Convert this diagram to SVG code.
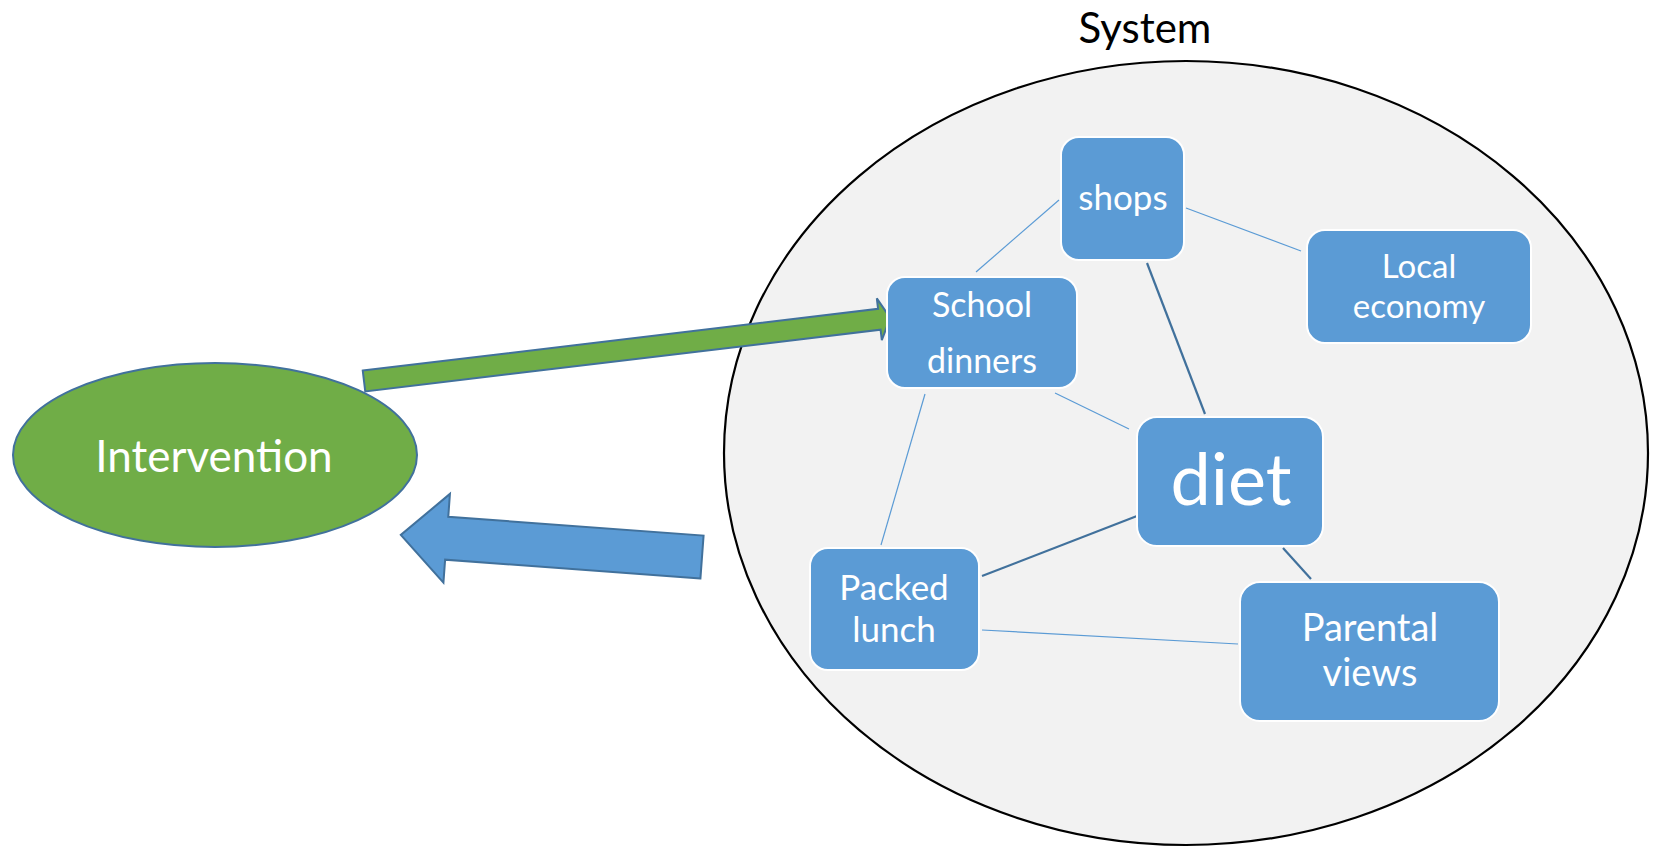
<svg xmlns="http://www.w3.org/2000/svg" width="1655" height="848" viewBox="0 0 1655 848">
<style>
.t{font-family:Lato,"Liberation Sans",sans-serif;fill:#fff;text-anchor:middle}
.node{fill:#5B9BD5;stroke:#fff;stroke-width:2}
.thin{stroke:#5B9BD5;stroke-width:1.2;fill:none}
.thick{stroke:#41719C;stroke-width:2.2;fill:none}
</style>
<rect width="1655" height="848" fill="#fff"/>
<g id="system">
<ellipse cx="1186" cy="453" rx="462" ry="392" fill="#F2F2F2" stroke="#000" stroke-width="2.2"/>
<text x="1145" y="43" font-family="Lato,'Liberation Sans',sans-serif" font-size="42" fill="#000" text-anchor="middle">System</text>
</g>
<g id="connectors">
<line class="thin" x1="1059" y1="200" x2="976" y2="272"/>
<line class="thin" x1="1186" y1="208" x2="1301" y2="251"/>
<line class="thick" x1="1147" y1="263" x2="1205" y2="414"/>
<line class="thin" x1="1055" y1="393" x2="1129" y2="429"/>
<line class="thin" x1="925" y1="394" x2="881" y2="545"/>
<line class="thick" x1="1137" y1="516" x2="982" y2="576"/>
<line class="thick" x1="1283" y1="548" x2="1311" y2="579"/>
<line class="thin" x1="982" y1="630" x2="1238" y2="644"/>
<polygon transform="translate(364,381) rotate(-6.83)" points="0,-10.5 519,-10.5 519,-21 530,0 519,21 519,10.5 0,10.5" fill="#70AD47" stroke="#41719C" stroke-width="2"/>
<polygon transform="translate(702,557) rotate(184.2)" points="0,-21.5 256,-21.5 256,-44.5 302,0 256,44.5 256,21.5 0,21.5" fill="#5B9BD5" stroke="#41719C" stroke-width="2"/>
</g>
<g id="intervention">
<ellipse cx="215" cy="455" rx="202" ry="92" fill="#70AD47" stroke="#41719C" stroke-width="2"/>
<text class="t" x="214" y="472" font-size="44">Intervention</text>
</g>
<g id="shops">
<rect class="node" x="1061" y="137" width="123" height="123" rx="18"/>
<text class="t" x="1123" y="210" font-size="35">shops</text>
</g>
<g id="local-economy">
<rect class="node" x="1307" y="230" width="224" height="113" rx="18"/>
<text class="t" x="1419" y="278" font-size="33">Local</text>
<text class="t" x="1419" y="318" font-size="33">economy</text>
</g>
<g id="school-dinners">
<rect class="node" x="887" y="277" width="190" height="111" rx="18"/>
<text class="t" x="982" y="317" font-size="34">School</text>
<text class="t" x="982" y="373" font-size="34">dinners</text>
</g>
<g id="diet">
<rect class="node" x="1137" y="417" width="186" height="129" rx="20"/>
<text class="t" x="1231" y="505" font-size="72">diet</text>
</g>
<g id="packed-lunch">
<rect class="node" x="810" y="548" width="169" height="122" rx="18"/>
<text class="t" x="894" y="600" font-size="35">Packed</text>
<text class="t" x="894" y="642" font-size="35">lunch</text>
</g>
<g id="parental-views">
<rect class="node" x="1240" y="582" width="259" height="139" rx="20"/>
<text class="t" x="1370" y="641" font-size="38">Parental</text>
<text class="t" x="1370" y="686" font-size="38">views</text>
</g>
</svg>
